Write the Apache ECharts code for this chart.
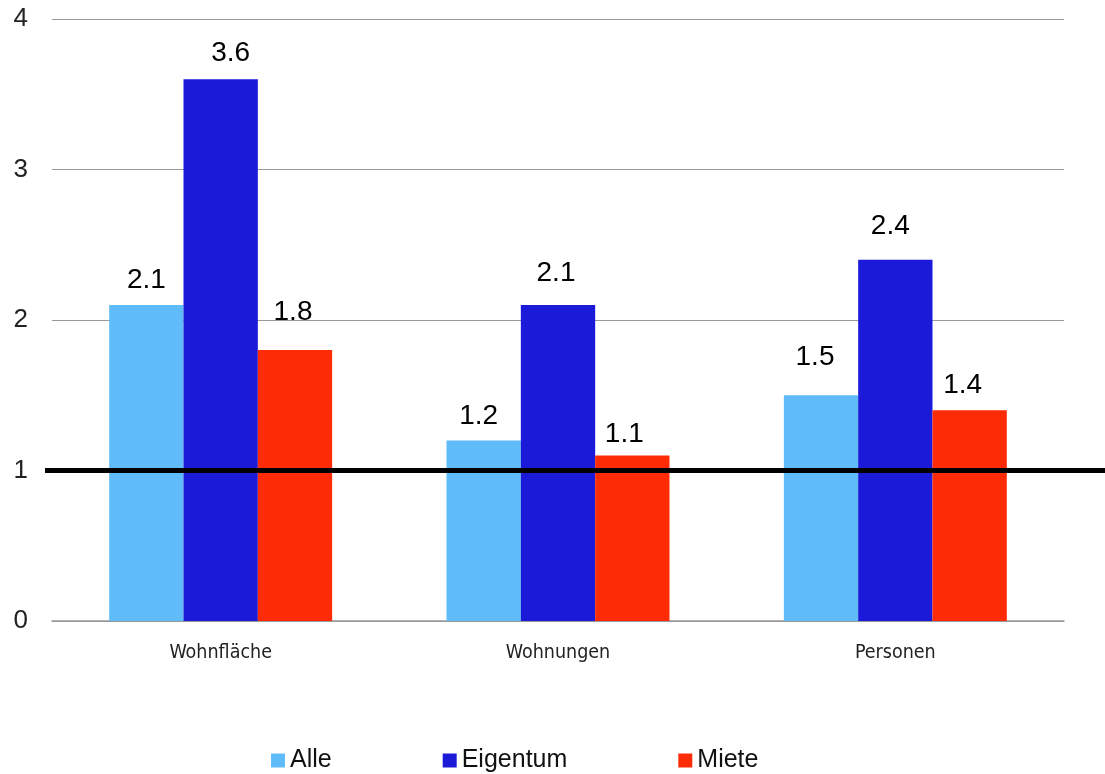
<!DOCTYPE html>
<html>
<head>
<meta charset="utf-8">
<script src="https://cdn.jsdelivr.net/npm/echarts@6/dist/echarts.min.js"></script>
<style>
  html, body { margin: 0; padding: 0; background: #fff; }
  #chart { width: 1105px; height: 774px; }
</style>
</head>
<body>
<div id="chart"></div>
<script>
// Categories and values (ratios)
const categories = ['Wohnfläche', 'Wohnungen', 'Personen'];
const seriesNames = ['Alle', 'Eigentum', 'Miete'];
const alleValues = [2.1, 1.2, 1.5];
const eigentumValues = [3.6, 2.1, 2.4];
const mieteValues = [1.8, 1.1, 1.4];
const yTicks = [0, 1, 2, 3, 4];
const referenceValue = 1;

// Layout: per-label nudges [dx, distance above bar] for each series
const labelNudge = [
  [[0, 11], [-5, 10], [-6, 24]],
  [[10, 12], [-2, 18], [-5, 20]],
  [[-2, 24], [-8, 7], [-7, 11]]
];
const colors = ['#5fbcf9', '#1a1ad8', '#fd2c06'];

const chart = echarts.init(document.getElementById('chart'));

const valueSets = [alleValues, eigentumValues, mieteValues];
const series = seriesNames.map((name, s) => ({
  name: name,
  type: 'bar',
  barGap: '0%',
  barCategoryGap: '33.9%',
  itemStyle: { color: colors[s] },
  label: {
    show: true,
    position: 'top',
    fontFamily: '"Liberation Sans", Arial, sans-serif',
    fontSize: 28,
    color: '#000',
    formatter: p => p.value.toFixed(1)
  },
  data: valueSets[s].map((v, i) => ({
    value: v,
    label: { offset: [labelNudge[s][i][0], 0], distance: labelNudge[s][i][1] }
  }))
}));

chart.setOption({
  animation: false,
  backgroundColor: '#fff',
  grid: { left: 52, right: 41, top: 19, bottom: 153, containLabel: false },
  legend: {
    data: seriesNames,
    left: 266,
    top: 743,
    icon: 'rect',
    itemWidth: 14,
    itemHeight: 14,
    itemGap: 111,
    textStyle: { fontFamily: '"Liberation Sans", Arial, sans-serif', fontSize: 25, color: '#111' }
  },
  xAxis: {
    type: 'category',
    data: categories,
    axisTick: { show: false },
    axisLine: { lineStyle: { color: '#999', width: 1.5 } },
    axisLabel: {
      margin: 22,
      fontFamily: '"Liberation Sans Narrow", "Arial Narrow", "DejaVu Sans Condensed", sans-serif',
      fontSize: 19.5,
      color: '#222'
    }
  },
  yAxis: {
    type: 'value',
    min: yTicks[0],
    max: yTicks[yTicks.length - 1],
    interval: 1,
    axisLine: { show: false },
    axisTick: { show: false },
    splitLine: { lineStyle: { color: '#999', width: 1.2 } },
    axisLabel: {
      margin: 24,
      fontFamily: '"Liberation Sans", Arial, sans-serif',
      fontSize: 26,
      color: '#222'
    }
  },
  series: series
});

// Heavy reference line at y = 1, running past the plot to the right edge
const refY = chart.convertToPixel({ yAxisIndex: 0 }, referenceValue);
chart.setOption({
  graphic: [{
    type: 'line',
    z: 100,
    shape: { x1: 45, y1: refY, x2: 1105, y2: refY },
    style: { stroke: '#000', lineWidth: 5 }
  }]
});
</script>
</body>
</html>
